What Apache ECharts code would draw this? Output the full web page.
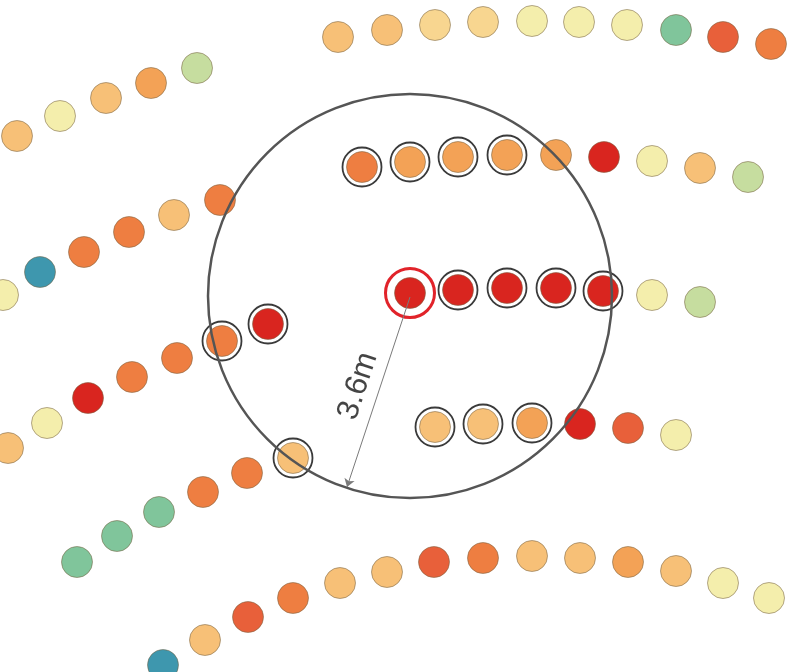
<!DOCTYPE html>
<html>
<head>
<meta charset="utf-8">
<script src="https://cdn.jsdelivr.net/npm/echarts@6/dist/echarts.min.js"></script>
<style>
  html, body { margin: 0; padding: 0; background: #fff; }
  #main { width: 790px; height: 672px; }
</style>
</head>
<body>
<div id="main"></div>
<script>
// colour levels, red (0) .. blue (9)
const levelColors = ['#d9251f', '#e8603a', '#ee7e41', '#f3a256', '#f7c077',
  '#f8d690', '#f4eeac', '#c6dd9f', '#80c59b', '#3e97ae']

// sensor rows: [x, y, level]
const rowA = [[338, 37, 4], [387, 30, 4], [435, 25, 5], [483, 22, 5], [532, 21, 6],
  [579, 22, 6], [627, 25, 6], [676, 30, 8], [723, 37, 1], [771, 44, 2]]
const rowB = [[17, 136, 4], [60, 116, 6], [106, 98, 4], [151, 83, 3], [197, 68, 7]]
const rowC = [[362, 167, 2], [410, 162, 3], [458, 157, 3], [507, 155, 3], [556, 155, 3],
  [604, 157, 0], [652, 161, 6], [700, 168, 4], [748, 177, 7]]
const rowD = [[410, 293, 0], [458, 290, 0], [507, 288, 0], [556, 288, 0], [603, 291, 0],
  [652, 295, 6], [700, 302, 7]]
const rowE = [[3, 295, 6], [40, 272, 9], [84, 252, 2], [129, 232, 2], [174, 215, 4], [220, 200, 2]]
const rowF = [[8, 448, 4], [47, 423, 6], [88, 398, 0], [132, 377, 2], [177, 358, 2],
  [222, 341, 2], [268, 324, 0]]
const rowG = [[77, 562, 8], [117, 536, 8], [159, 512, 8], [203, 492, 2], [247, 473, 2], [293, 458, 4]]
const rowH = [[435, 427, 4], [483, 424, 4], [532, 423, 3], [580, 424, 0], [628, 428, 1], [676, 435, 6]]
const rowI = [[163, 665, 9], [205, 640, 4], [248, 617, 1], [293, 598, 2], [340, 583, 4],
  [387, 572, 4], [434, 562, 1], [483, 558, 2], [532, 556, 4], [580, 558, 4], [628, 562, 3],
  [676, 571, 4], [723, 583, 6], [769, 598, 6]]

// neighbours inside the radius
const ringed = [[362, 167], [410, 162], [458, 157], [507, 155], [458, 290], [507, 288],
  [556, 288], [603, 291], [222, 341], [268, 324], [293, 458], [435, 427], [483, 424], [532, 423]]

const focusPoint = [410, 293]
const rangeCenter = [410, 296]
const radiusLine = [[410, 297], [347, 487]]
const radiusLabel = '3.6m'
const labelPos = [358, 386]

const allDots = [].concat(rowA, rowB, rowC, rowD, rowE, rowF, rowG, rowH, rowI)

const chart = echarts.init(document.getElementById('main'))

let option = {
  backgroundColor: '#ffffff',
  animation: false,
  grid: { left: 0, right: 0, top: 0, bottom: 0 },
  xAxis: { type: 'value', min: 0, max: 790, show: false },
  yAxis: { type: 'value', min: 0, max: 672, inverse: true, show: false },
  series: [
    {
      name: 'dots',
      type: 'scatter',
      symbolSize: 31,
      data: allDots,
      itemStyle: {
        color: p => levelColors[p.value[2]],
        borderColor: 'rgba(120, 100, 70, 0.55)',
        borderWidth: 1,
        opacity: 1
      },
      z: 2
    },
    {
      name: 'rings',
      type: 'scatter',
      symbolSize: 39,
      data: ringed,
      itemStyle: {
        color: 'rgba(0,0,0,0)',
        borderColor: '#3a3a3a',
        borderWidth: 1.8,
        opacity: 1
      },
      z: 3
    },
    {
      name: 'focus',
      type: 'scatter',
      symbolSize: 49,
      data: [focusPoint],
      itemStyle: {
        color: 'rgba(0,0,0,0)',
        borderColor: '#e1232a',
        borderWidth: 3,
        opacity: 1
      },
      z: 3
    },
    {
      name: 'range',
      type: 'scatter',
      symbolSize: 404,
      data: [rangeCenter],
      silent: true,
      itemStyle: {
        color: 'rgba(0,0,0,0)',
        borderColor: '#555555',
        borderWidth: 2.5,
        opacity: 1
      },
      z: 4
    },
    {
      name: 'radius',
      type: 'lines',
      coordinateSystem: 'cartesian2d',
      data: [{ coords: radiusLine }],
      symbol: ['none', 'arrow'],
      symbolSize: 8,
      lineStyle: { color: '#7a7a7a', width: 1, opacity: 1 },
      z: 5
    },
    {
      name: 'label',
      type: 'scatter',
      symbolSize: 0,
      data: [labelPos],
      label: {
        show: true,
        position: 'inside',
        formatter: radiusLabel,
        rotate: 71.5,
        fontSize: 31,
        fontFamily: 'Liberation Sans, Arial, sans-serif',
        color: '#151515'
      },
      z: 6
    }
  ]
}
chart.setOption(option)
</script>
</body>
</html>
